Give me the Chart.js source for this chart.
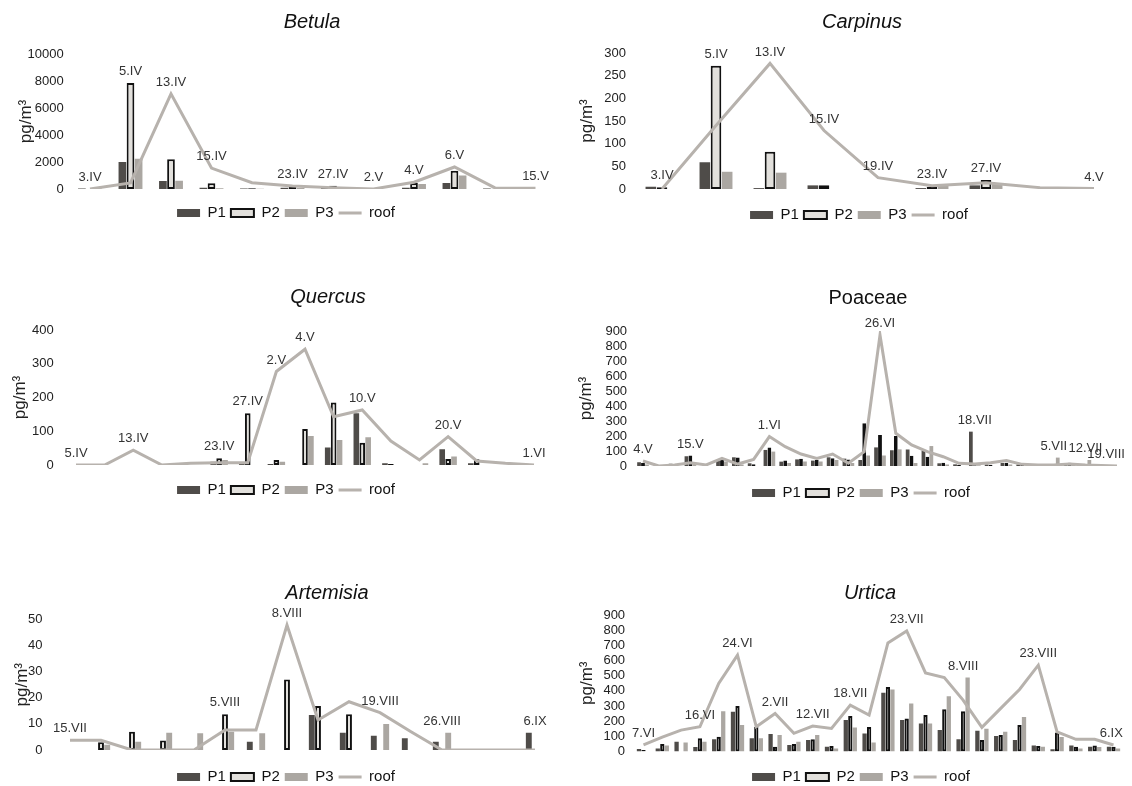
<!DOCTYPE html>
<html>
<head>
<meta charset="utf-8">
<title>Pollen allergen concentrations</title>
<script src="https://cdn.jsdelivr.net/npm/chart.js@4.4.0/dist/chart.umd.min.js"></script>
<style>
  html, body { margin: 0; padding: 0; width: 1132px; height: 786px; overflow: hidden; background: #fff; }
  canvas { position: absolute; }
</style>
</head>
<body>
<canvas id="betula"></canvas>
<canvas id="carpinus"></canvas>
<canvas id="quercus"></canvas>
<canvas id="poaceae"></canvas>
<canvas id="artemisia"></canvas>
<canvas id="urtica"></canvas>
<script>
// --- data ---
const betulaDates = ['3.IV', '5.IV', '13.IV', '15.IV', '', '23.IV', '27.IV', '2.V', '4.V', '6.V', '', '15.V'];
const betulaP1 = [30, 2000, 600, 100, 40, 100, 100, 10, 100, 450, 30, 30];
const betulaP2 = [0, 7850, 2200, 420, 60, 250, 250, 0, 450, 1350, 20, 0];
const betulaP3 = [30, 2250, 620, 50, 20, 80, 50, 0, 370, 1000, 0, 0];
const betulaRoof = [0, 450, 7050, 1550, 470, 220, 100, 0, 500, 1630, 80, 50];

const carpinusDates = ['3.IV', '5.IV', '13.IV', '15.IV', '19.IV', '23.IV', '27.IV', '', '4.V'];
const carpinusP1 = [5, 59, 2, 8, 0, 2, 8, 0, 0];
const carpinusP2 = [4, 272, 82, 8, 0, 5, 20, 0, 0];
const carpinusP3 = [0, 38, 36, 0, 0, 7, 12, 0, 0];
const carpinusRoof = [0, 140, 277, 129, 25, 7, 14, 3, 1];

const quercusDates = ['5.IV', '', '13.IV', '', '', '23.IV', '27.IV', '2.V', '4.V', '', '10.V', '', '', '20.V', '', '', '1.VI'];
const quercusP1 = [0, 0, 0, 0, 0, 10, 5, 3, 0, 52, 153, 5, 0, 47, 5, 0, 0];
const quercusP2 = [0, 0, 0, 0, 0, 20, 153, 15, 107, 185, 66, 3, 0, 18, 17, 0, 0];
const quercusP3 = [0, 0, 0, 0, 0, 15, 0, 10, 86, 74, 82, 0, 5, 25, 0, 0, 0];
const quercusRoof = [0, 0, 44, 0, 5, 7, 7, 277, 343, 143, 163, 71, 15, 84, 12, 5, 0];

const poaceaeDates = ['4.V', '', '', '15.V', '', '', '', '', '1.VI', '', '', '', '', '', '', '26.VI',
  '', '', '', '', '', '18.VII', '', '', '', '', '5.VII', '', '12.VII', '', '19.VIII'];
const poaceaeP1 = [25, 0, 15, 65, 0, 40, 58, 18, 107, 29, 44, 36, 58, 49, 40, 124,
  105, 110, 102, 18, 11, 229, 10, 20, 10, 5, 5, 15, 0, 5, 0];
const poaceaeP2 = [20, 0, 10, 70, 0, 40, 56, 12, 124, 36, 49, 40, 51, 44, 285, 207,
  200, 69, 62, 22, 8, 5, 8, 22, 8, 0, 0, 22, 0, 0, 0];
const poaceaeP3 = [10, 0, 0, 20, 0, 30, 10, 0, 96, 20, 30, 30, 40, 20, 70, 70,
  111, 20, 133, 10, 0, 5, 0, 10, 0, 0, 56, 10, 40, 5, 0];
const poaceaeRoof = [33, 0, 7, 22, 7, 51, 13, 44, 196, 129, 80, 51, 80, 18, 96, 873,
  218, 140, 96, 62, 18, 13, 22, 36, 11, 7, 7, 13, 7, 4, 0];

const artemisiaDates = ['15.VII', '', '', '', '', '5.VIII', '', '8.VIII', '', '', '19.VIII', '', '26.VIII', '', '', '6.IX'];
const artemisiaP1 = [0, 0, 0, 0, 0, 0, 3.2, 0, 13.4, 6.6, 5.5, 4.5, 3.2, 0, 0, 6.6];
const artemisiaP2 = [0, 3, 7, 3.6, 0, 13.7, 0, 27, 16.9, 13.7, 0, 0, 0, 0, 0, 0];
const artemisiaP3 = [0, 2, 3.2, 6.6, 6.4, 7, 6.4, 0, 0, 0, 10, 0, 6.6, 0, 0, 0];
const artemisiaRoof = [3.7, 3.7, 0, 0, 0, 7.7, 7.7, 47.9, 11.5, 18.5, 14.3, 7, 0, 0, 0, 0];

const urticaDates = ['7.VI', '', '', '16.VI', '', '24.VI', '', '2.VII', '', '12.VII', '', '18.VII', '', '',
  '23.VII', '', '', '8.VIII', '', '', '', '23.VIII', '', '', '', '6.IX'];
const urticaP1 = [16, 20, 65, 30, 80, 262, 87, 115, 43, 76, 32, 207, 118, 387, 207, 185, 141, 80, 137, 102, 76, 40, 15, 40, 32, 32];
const urticaP2 = [10, 50, 0, 87, 98, 300, 164, 32, 50, 80, 36, 234, 162, 426, 218, 240, 279, 265, 76, 108, 174, 36, 125, 32, 40, 32];
const urticaP3 = [0, 40, 60, 65, 265, 175, 87, 108, 65, 108, 20, 159, 60, 409, 317, 185, 365, 488, 150, 130, 228, 32, 95, 20, 30, 20];
const urticaRoof = [43, 95, 141, 163, 449, 635, 163, 251, 120, 168, 152, 306, 240, 716, 795, 518, 488, 339, 159, 284, 409, 569, 130, 80, 80, 43];

// --- look ---
const FONT = "'Liberation Sans', Arial, Helvetica, sans-serif";
const C_P1 = '#4f4c49';
const C_P2 = '#e2e0dc';
const C_P3 = '#aba7a2';
const C_ROOF = '#b7b2ad';
const LEG_FONT = 15;
const LEG_PAD = 5;

// date names written above their points (kept inside the plot on the right)
const dateLabels = {
  id: 'dateLabels',
  afterDatasetsDraw(chart) {
    const { ctx, chartArea, scales: { x, y } } = chart;
    ctx.save();
    ctx.font = '13px ' + FONT;
    ctx.fillStyle = '#333';
    ctx.textAlign = 'center';
    ctx.textBaseline = 'bottom';
    chart.data.labels.forEach((lab, i) => {
      if (!lab) return;
      const top = Math.max(...chart.data.datasets.map(d => d.data[i] || 0));
      const half = ctx.measureText(lab).width / 2;
      const cx = Math.min(x.getPixelForValue(i), chartArea.right - half);
      ctx.fillText(lab, cx, y.getPixelForValue(top) - 5);
    });
    ctx.restore();
  }
};

// panel title, placed where the figure has it (not always centred on the plot)
const panelTitle = {
  id: 'panelTitle',
  afterDraw(chart, args, opts) {
    const { ctx } = chart;
    ctx.save();
    ctx.font = (opts.italic ? 'italic ' : '') + '20px ' + FONT;
    ctx.fillStyle = '#111';
    ctx.textAlign = 'center';
    ctx.textBaseline = 'middle';
    ctx.fillText(opts.text, opts.x, opts.y);
    ctx.restore();
  }
};

function drawPanel(id, g, labels, p1, p2, p3, roof) {
  const n = labels.length;
  const plotL = g.first - g.step / 2;
  const plotR = plotL + g.step * n;
  const right = 2 * g.legendX - g.left;          // legend is centred on the canvas
  const legTop = g.legendY - LEG_PAD - LEG_FONT / 2;
  const rawH = legTop + LEG_FONT + LEG_PAD + 10 - g.top;
  const H = Math.ceil(rawH);

  const canvas = document.getElementById(id);
  canvas.width = right - g.left;
  canvas.height = H;
  canvas.style.left = g.left + 'px';
  canvas.style.top = g.top + 'px';

  const hidden = { ticks: { display: false }, grid: { display: false, drawTicks: false }, border: { display: false } };

  new Chart(canvas, {
    type: 'bar',
    data: {
      labels: labels,
      datasets: [
        { label: 'P1', data: p1, backgroundColor: C_P1, borderWidth: 0, order: 1 },
        { label: 'P2', data: p2, backgroundColor: C_P2, borderColor: '#111', borderWidth: 2, borderSkipped: false, order: 1 },
        { label: 'P3', data: p3, backgroundColor: C_P3, borderWidth: 0, order: 1 },
        { type: 'line', label: 'roof', data: roof, borderColor: C_ROOF, backgroundColor: C_ROOF,
          borderWidth: 3, pointRadius: 0, tension: 0, order: 0 }
      ]
    },
    options: {
      responsive: false,
      animation: false,
      layout: { padding: { top: g.plotT - g.top, left: 0, right: 0, bottom: H - rawH } },
      datasets: { bar: { categoryPercentage: g.cat, barPercentage: 0.95 } },
      scales: {
        x: { ...hidden, offset: true, afterFit: s => { s.height = legTop - g.plotB; } },
        y: {
          min: 0,
          max: g.max,
          ticks: { stepSize: g.stepSize, autoSkip: false, padding: g.tickPad, color: '#222',
                   font: { size: 13, family: FONT }, callback: v => v },
          grid: { display: false, drawTicks: false },
          border: { display: false },
          title: { display: true, text: 'pg/m³', color: '#222', font: { size: 17, family: FONT },
                   padding: { top: g.yTitleX - g.left - 10.2, bottom: 0 } },
          afterFit: s => { s.width = plotL - g.left; }
        },
        gap: { type: 'linear', position: 'right', ...hidden, afterFit: s => { s.width = right - plotR; } }
      },
      plugins: {
        title: { display: false },
        panelTitle: { text: g.title, italic: g.italic, x: g.titleX - g.left, y: g.titleY - g.top },
        legend: {
          position: 'bottom',
          labels: {
            usePointStyle: true,
            pointStyleWidth: 23,
            boxHeight: 8,
            padding: LEG_PAD,
            color: '#111',
            font: { size: LEG_FONT, family: FONT },
            generateLabels: chart => Chart.defaults.plugins.legend.labels.generateLabels(chart)
              .map(it => ({ ...it, pointStyle: it.text === 'roof' ? 'line' : 'rect' }))
              .sort((a, b) => a.datasetIndex - b.datasetIndex)
          }
        },
        tooltip: { enabled: false }
      }
    },
    plugins: [dateLabels, panelTitle]
  });
}

drawPanel('betula',
  { title: 'Betula', italic: true, left: 0, top: 0, first: 90, step: 40.5, titleX: 312, titleY: 22, plotT: 54, plotB: 189,
    legendY: 213, legendX: 286, yTitleX: 26, tickPad: 6, max: 10000, stepSize: 2000, cat: 0.6 },
  betulaDates, betulaP1, betulaP2, betulaP3, betulaRoof);

drawPanel('carpinus',
  { title: 'Carpinus', italic: true, left: 560, top: 0, first: 662, step: 54, titleX: 862, titleY: 22, plotT: 53, plotB: 189,
    legendY: 215, legendX: 859, yTitleX: 587, tickPad: 9, max: 300, stepSize: 50, cat: 0.62 },
  carpinusDates, carpinusP1, carpinusP2, carpinusP3, carpinusRoof);

drawPanel('quercus',
  { title: 'Quercus', italic: true, left: 0, top: 280, first: 76, step: 28.625, titleX: 328, titleY: 297, plotT: 330, plotB: 465,
    legendY: 490, legendX: 286, yTitleX: 20, tickPad: 8, max: 400, stepSize: 100, cat: 0.62 },
  quercusDates, quercusP1, quercusP2, quercusP3, quercusRoof);

drawPanel('poaceae',
  { title: 'Poaceae', italic: false, left: 560, top: 280, first: 643, step: 15.8, titleX: 868, titleY: 298, plotT: 331, plotB: 466,
    legendY: 493, legendX: 861, yTitleX: 586, tickPad: 8, max: 900, stepSize: 100, cat: 0.75 },
  poaceaeDates, poaceaeP1, poaceaeP2, poaceaeP3, poaceaeRoof);

drawPanel('artemisia',
  { title: 'Artemisia', italic: true, left: 0, top: 570, first: 70, step: 31, titleX: 327, titleY: 593, plotT: 619.5, plotB: 750,
    legendY: 777, legendX: 286, yTitleX: 22, tickPad: 12, max: 50, stepSize: 10, cat: 0.6 },
  artemisiaDates, artemisiaP1, artemisiaP2, artemisiaP3, artemisiaRoof);

drawPanel('urtica',
  { title: 'Urtica', italic: true, left: 560, top: 570, first: 643.5, step: 18.8, titleX: 870, titleY: 593, plotT: 615, plotB: 751.5,
    legendY: 777, legendX: 861, yTitleX: 587, tickPad: 9, max: 900, stepSize: 100, cat: 0.72 },
  urticaDates, urticaP1, urticaP2, urticaP3, urticaRoof);
</script>
</body>
</html>
